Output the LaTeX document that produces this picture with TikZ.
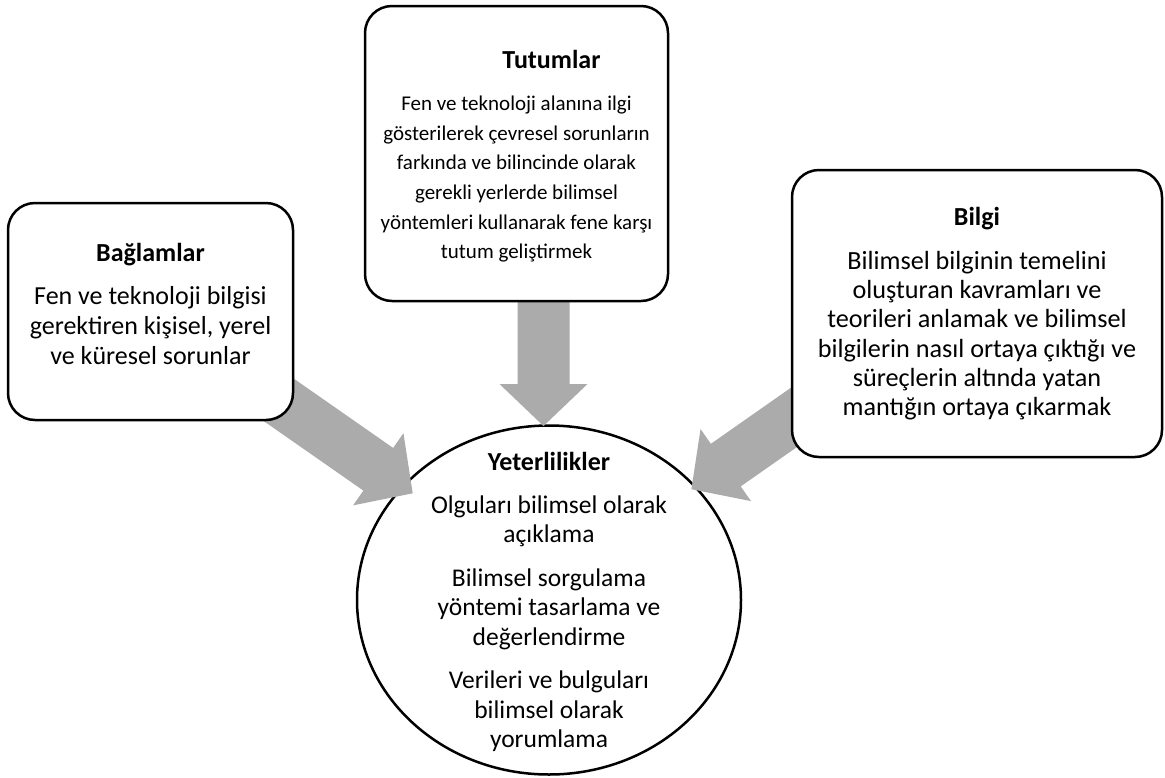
\documentclass[tikz,border=0pt]{standalone}
\usepackage{fontspec}
\setmainfont{Carlito}
\usetikzlibrary{shapes.geometric,calc}
\definecolor{arrowgray}{RGB}{171,171,171}
\newcommand{\boxtitle}[1]{{\fontsize{26}{30}\selectfont\bfseries #1}}
\tikzset{
  box/.style={draw=black, line width=2.5pt, fill=white, rounded corners=27pt, inner sep=0pt},
  roundbox/.style={draw=black, line width=2.5pt, fill=white, ellipse, inner sep=0pt},
  plaintext/.style={inner sep=0pt, align=center},
  fatarrow/.style={fill=arrowgray, draw=none}
}
\newcommand{\fatarrowdraw}[2]{%
  \fill[fatarrow]
    ($(#1)!26pt!90:(#2)$) --
    ($($(#2)!42pt!(#1)$)!26pt!90:(#2)$) --
    ($($(#2)!42pt!(#1)$)!44pt!90:(#2)$) --
    (#2) --
    ($($(#2)!42pt!(#1)$)!44pt!-90:(#2)$) --
    ($($(#2)!42pt!(#1)$)!26pt!-90:(#2)$) --
    ($(#1)!26pt!-90:(#2)$) -- cycle;}
\begin{document}
\begin{tikzpicture}[x=1pt,y=-1pt]
\useasboundingbox (0,0) rectangle (1165,777);
% central circle
\node[roundbox, minimum width=384pt, minimum height=349pt] (yet) at (549,600) {};
\node[plaintext, font=\fontsize{25.5}{29.5}\selectfont] (yettxt) at (549,602)
  {\boxtitle{Yeterlilikler}\\[13pt]
   Olguları bilimsel olarak\\ açıklama\\[14pt]
   Bilimsel sorgulama\\ yöntemi tasarlama ve\\ değerlendirme\\[14pt]
   Verileri ve bulguları\\ bilimsel olarak\\ yorumlama};
% arrow coordinates
\coordinate (sL) at (246,377);
\coordinate (tL) at (412.7,493.3);
\coordinate (sM) at (543.5,280);
\coordinate (tM) at (543.5,426);
\coordinate (sR) at (839.7,385.3);
\coordinate (tR) at (691.4,489.2);
\fatarrowdraw{sL}{tL}
\fatarrowdraw{sM}{tM}
\fatarrowdraw{sR}{tR}
% boxes
\node[box, minimum width=303pt, minimum height=295pt] (tut) at (516.5,153.5) {};
\node[plaintext, font=\fontsize{21}{29.6}\selectfont] (tuttxt) at (516.5,156)
  {\hspace*{70pt}\boxtitle{Tutumlar}\\[13pt]
   Fen ve teknoloji alanına ilgi\\
   gösterilerek çevresel sorunların\\
   farkında ve bilincinde olarak\\
   gerekli yerlerde bilimsel\\
   yöntemleri kullanarak fene karşı\\
   tutum geliştirmek};
\node[box, minimum width=285pt, minimum height=217pt] (bag) at (150.5,311.5) {};
\node[plaintext, font=\fontsize{26}{30}\selectfont] (bagtxt) at (150.5,304)
  {\boxtitle{Bağlamlar}\\[13pt]
   Fen ve teknoloji bilgisi\\
   gerektiren kişisel, yerel\\
   ve küresel sorunlar};
\node[box, minimum width=370pt, minimum height=287pt] (bil) at (977,313.5) {};
\node[plaintext, font=\fontsize{26.2}{29.3}\selectfont] (biltxt) at (977,314)
  {\boxtitle{Bilgi}\\[14pt]
   Bilimsel bilginin temelini\\
   oluşturan kavramları ve\\
   teorileri anlamak ve bilimsel\\
   bilgilerin nasıl ortaya çıktığı ve\\
   süreçlerin altında yatan\\
   mantığın ortaya çıkarmak};
\end{tikzpicture}
\end{document}
